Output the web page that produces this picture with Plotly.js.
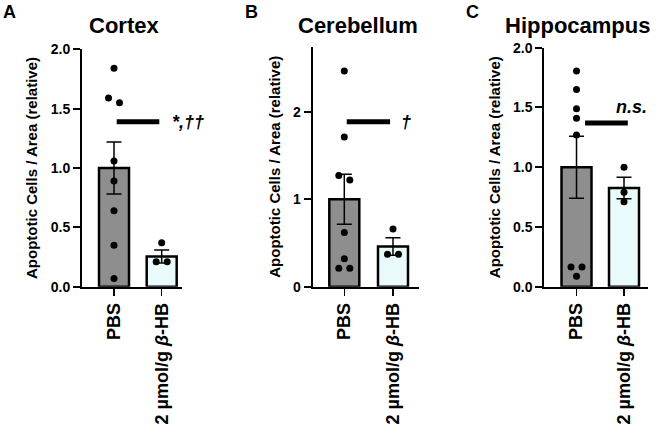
<!DOCTYPE html>
<html>
<head>
<meta charset="utf-8">
<script src="https://cdn.plot.ly/plotly-3.0.1.min.js"></script>
<style>html,body{margin:0;padding:0;background:#fff;}#chart{width:658px;height:435px;}</style>
</head>
<body>
<div id="chart"></div>
<script>
// ---- data ----
const groups = ["PBS", "2 µmol/g <i>β</i>-HB"];
const panelTitles = ["Cortex", "Cerebellum", "Hippocampus"];
const panelLetters = ["A", "B", "C"];

const cortexMean = [1.0, 0.255];
const cortexSem = [0.22, 0.055];
const cortexPBS = [1.84, 1.59, 1.55, 1.06, 0.89, 0.64, 0.35, 0.07];
const cortexHB = [0.37, 0.21, 0.21];

const cerebellumMean = [1.0, 0.46];
const cerebellumSem = [0.285, 0.10];
const cerebellumPBS = [2.465, 1.71, 1.27, 1.22, 0.62, 0.32, 0.21, 0.21];
const cerebellumHB = [0.66, 0.37, 0.37];

const hippoMean = [1.0, 0.825];
const hippoSem = [0.26, 0.09];
const hippoPBS = [1.805, 1.65, 1.49, 1.41, 1.27, 0.165, 0.165, 0.087];
const hippoHB = [1.0, 0.79, 0.71];

const sigText = ["<i>*,††</i>", "<i>†</i>", "<i>n.s.</i>"];
const sigY = [1.39, 1.886, 1.37];

// ---- layout geometry ----
const W = 658, H = 435;
const panels = [
  {mean: cortexMean, sem: cortexSem, pts: [cortexPBS, cortexHB],
   xpx: [82, 182], xr: [-0.671, 1.426], ypx: [286.7, 49.3], yr: [0, 2.0],
   ticks: [0, 0.5, 1.0, 1.5, 2.0], fmt: v => v.toFixed(1),
   sig: [0.057, 0.95], sigTx: 1.17, sigTy: 1.39, sigAnchor: 'left',
   titleX: 124, letterX: 9},
  {mean: cerebellumMean, sem: cerebellumSem, pts: [cerebellumPBS, cerebellumHB],
   xpx: [312.7, 419], xr: [-0.649, 1.534], ypx: [286.7, 46.7], yr: [0, 2.743],
   ticks: [0, 1, 2], fmt: v => v.toFixed(0),
   sig: [0.05, 0.94], sigTx: 1.12, sigTy: 1.886, sigAnchor: 'left',
   titleX: 358.3, letterX: 251.5},
  {mean: hippoMean, sem: hippoSem, pts: [hippoPBS, hippoHB],
   xpx: [544.3, 648], xr: [-0.678, 1.505], ypx: [286.7, 47.7], yr: [0, 2.0],
   ticks: [0, 0.5, 1.0, 1.5, 2.0], fmt: v => v.toFixed(1),
   sig: [0.18, 1.08], sigTx: 1.15, sigTy: 1.50, sigAnchor: 'center',
   titleX: 577, letterX: 472.5}
];

const FONT = "'Liberation Sans', Arial, Helvetica, sans-serif";
const barColors = ["#8e8e8e", "#e8fafa"];

const traces = [];
const layout = {
  width: W, height: H,
  margin: {l: 0, r: 0, t: 0, b: 0},
  paper_bgcolor: "#ffffff", plot_bgcolor: "rgba(0,0,0,0)",
  showlegend: false,
  font: {family: FONT, color: "#000", size: 14, weight: "bold"},
  annotations: [], shapes: []
};

function jitter(vals, pxPerY, pxPerX) {
  // group near-equal values and spread them side by side
  const idx = vals.map((v, i) => i).sort((a, b) => vals[b] - vals[a]);
  const off = new Array(vals.length).fill(0);
  let g = [idx[0]];
  const flush = () => {
    const n = g.length;
    g.forEach((k, j) => { off[k] = (j - (n - 1) / 2) * 11 / pxPerX; });
  };
  for (let i = 1; i < idx.length; i++) {
    if ((vals[g[g.length - 1]] - vals[idx[i]]) * pxPerY < 8) g.push(idx[i]);
    else { flush(); g = [idx[i]]; }
  }
  flush();
  return off;
}

panels.forEach((p, i) => {
  const n = i + 1;
  const xa = "x" + (n === 1 ? "" : n), ya = "y" + (n === 1 ? "" : n);
  const xk = "xaxis" + (n === 1 ? "" : n), yk = "yaxis" + (n === 1 ? "" : n);
  const pxPerX = (p.xpx[1] - p.xpx[0]) / (p.xr[1] - p.xr[0]);
  const pxPerY = (p.ypx[0] - p.ypx[1]) / (p.yr[1] - p.yr[0]);

  traces.push({
    type: "bar", x: [0, 1], y: p.mean, xaxis: xa, yaxis: ya,
    width: 30 / pxPerX,
    marker: {color: barColors, line: {color: "#000", width: 2.5}},
    error_y: {type: "data", array: p.sem, visible: true, color: "#000", thickness: 1.5, width: 7.5},
    hoverinfo: "skip"
  });
  p.pts.forEach((vals, g) => {
    const off = jitter(vals, pxPerY, pxPerX);
    traces.push({
      type: "scatter", mode: "markers", xaxis: xa, yaxis: ya,
      x: vals.map((v, k) => g + off[k]), y: vals,
      marker: {color: "#000", size: 7}, hoverinfo: "skip"
    });
  });

  layout[xk] = {
    domain: [p.xpx[0] / W, p.xpx[1] / W], range: p.xr, anchor: ya,
    showline: true, linewidth: 2, linecolor: "#000", mirror: false,
    showgrid: false, zeroline: false, ticks: "outside", ticklen: 7, tickwidth: 1.5, tickcolor: "#000",
    tickvals: [0, 1], ticktext: groups, tickangle: -90,
    tickfont: {family: FONT, size: 18, weight: "bold", color: "#000"}, fixedrange: true
  };
  layout[yk] = {
    domain: [1 - p.ypx[0] / H, 1 - p.ypx[1] / H], range: p.yr, anchor: xa,
    showline: true, linewidth: 2, linecolor: "#000",
    showgrid: false, zeroline: false, ticks: "outside", ticklen: 7, tickwidth: 2, tickcolor: "#000",
    tickvals: p.ticks, ticktext: p.ticks.map(p.fmt),
    tickfont: {family: FONT, size: 14, weight: "bold", color: "#000"},
    title: {text: "Apoptotic Cells / Area (relative)", font: {family: FONT, size: 15, weight: "bold", color: "#000"}, standoff: 9},
    fixedrange: true
  };

  layout.shapes.push({type: "line", xref: xa, yref: ya, x0: p.sig[0], x1: p.sig[1],
    y0: sigY[i], y1: sigY[i], line: {color: "#000", width: 5}});
  layout.annotations.push({xref: xa, yref: ya, x: p.sigTx, y: p.sigTy, text: sigText[i],
    showarrow: false, xanchor: p.sigAnchor, yanchor: "middle",
    font: {family: FONT, size: 18, weight: "bold", color: "#000"}});
  layout.annotations.push({xref: "paper", yref: "paper", x: p.titleX / W, y: 1 - 25 / H,
    text: panelTitles[i], showarrow: false, xanchor: "center", yanchor: "middle",
    font: {family: FONT, size: 22, weight: "bold", color: "#000"}});
  layout.annotations.push({xref: "paper", yref: "paper", x: p.letterX / W, y: 1 - 12 / H,
    text: panelLetters[i], showarrow: false, xanchor: "center", yanchor: "middle",
    font: {family: FONT, size: 18, weight: "bold", color: "#000"}});
});

Plotly.newPlot("chart", traces, layout, {displayModeBar: false, staticPlot: true});
</script>
</body>
</html>
